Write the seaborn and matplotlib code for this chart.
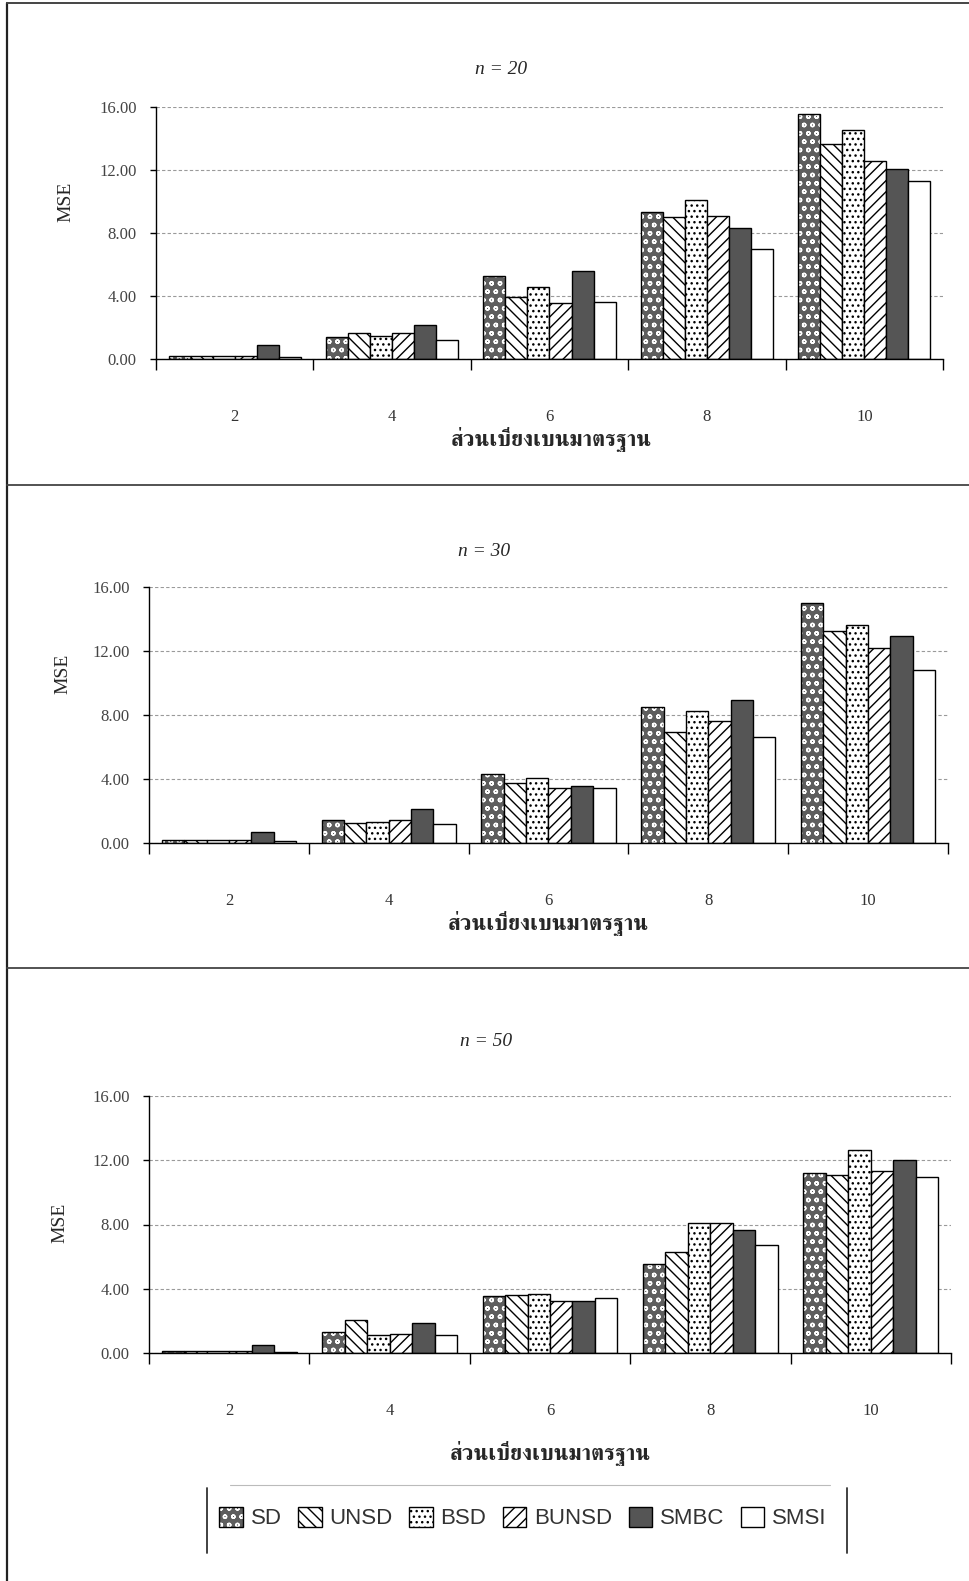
import numpy as np
import pandas as pd
import matplotlib
matplotlib.use("Agg")
import matplotlib.pyplot as plt
import seaborn as sns
from matplotlib import font_manager as fm
from matplotlib.ft2font import FT2Font
from matplotlib.lines import Line2D
from matplotlib.patches import Patch

# ---------------- data ----------------
sd_levels = ["2", "4", "6", "8", "10"]
methods = ["SD", "UNSD", "BSD", "BUNSD", "SMBC", "SMSI"]
panel_titles = ["n = 20", "n = 30", "n = 50"]

n20_SD    = [0.17, 1.42, 5.30, 9.32, 15.57]
n20_UNSD  = [0.17, 1.63, 3.96, 9.00, 13.62]
n20_BSD   = [0.17, 1.46, 4.60, 10.11, 14.56]
n20_BUNSD = [0.17, 1.63, 3.58, 9.09, 12.54]
n20_SMBC  = [0.91, 2.18, 5.59, 8.33, 12.06]
n20_SMSI  = [0.15, 1.23, 3.60, 6.97, 11.33]

n30_SD    = [0.17, 1.41, 4.33, 8.48, 15.03]
n30_UNSD  = [0.17, 1.24, 3.77, 6.92, 13.22]
n30_BSD   = [0.17, 1.31, 4.04, 8.25, 13.64]
n30_BUNSD = [0.17, 1.43, 3.44, 7.61, 12.17]
n30_SMBC  = [0.68, 2.11, 3.59, 8.95, 12.93]
n30_SMSI  = [0.12, 1.20, 3.42, 6.65, 10.82]

n50_SD    = [0.12, 1.32, 3.55, 5.55, 11.19]
n50_UNSD  = [0.12, 2.03, 3.61, 6.26, 11.11]
n50_BSD   = [0.12, 1.13, 3.67, 8.08, 12.65]
n50_BUNSD = [0.12, 1.21, 3.26, 8.08, 11.32]
n50_SMBC  = [0.50, 1.84, 3.26, 7.64, 12.03]
n50_SMSI  = [0.08, 1.13, 3.44, 6.74, 10.98]

ytick_vals = [0, 4, 8, 12, 16]
ytick_labels = ["0.00", "4.00", "8.00", "12.00", "16.00"]
xlabel_text = "ส่วนเบี่ยงเบนมาตรฐาน"
ylabel_text = "MSE"

panels = [
    [n20_SD, n20_UNSD, n20_BSD, n20_BUNSD, n20_SMBC, n20_SMSI],
    [n30_SD, n30_UNSD, n30_BSD, n30_BUNSD, n30_SMBC, n30_SMSI],
    [n50_SD, n50_UNSD, n50_BSD, n50_BUNSD, n50_SMBC, n50_SMSI],
]

# ---------------- fonts ----------------
def find_thai_font():
    found = []
    for f in fm.fontManager.ttflist:
        try:
            cm = FT2Font(f.fname).get_charmap()
        except Exception:
            continue
        if 0x0E2A in cm and 0x0E40 in cm and 0x0E10 in cm:
            found.append(f)
    if not found:
        return None
    def score(f):
        s = 0
        if f.weight in ("bold", 700) or str(f.weight) == "700":
            s += 2
        if "serif" in f.name.lower() and "sans" not in f.name.lower():
            s += 1
        return -s
    found.sort(key=score)
    return found[0].name

thai_family = find_thai_font()
installed = {f.name for f in fm.fontManager.ttflist}
legend_family = [n for n in ["Liberation Sans Narrow", "Liberation Sans", "DejaVu Sans"]
                 if n in installed] or ["DejaVu Sans"]

sns.set_theme(style="white")
SERIF = ["Liberation Serif", "DejaVu Serif"]
plt.rcParams["font.family"] = SERIF
plt.rcParams["hatch.linewidth"] = 1.0

# ---------------- styles ----------------
styles = {
    "SD":    dict(face="#5e5e5e", hatch="oo", hcolor="white"),
    "UNSD":  dict(face="white", hatch="\\\\\\", hcolor="black"),
    "BSD":   dict(face="white", hatch="...", hcolor="black"),
    "BUNSD": dict(face="white", hatch="///", hcolor="black"),
    "SMBC":  dict(face="#555555", hatch=None, hcolor="black"),
    "SMSI":  dict(face="white", hatch=None, hcolor="black"),
}

W, H = 970, 1581
fig = plt.figure(figsize=(W / 100, H / 100), dpi=100)

def fx(px):
    return px / W

def fy(py):
    return 1 - py / H

rects = [(156, 943, 107, 359), (149, 948, 587, 843), (149, 951, 1096, 1353)]
title_pos = [(501, 69), (484, 551), (486, 1041)]
xlabel_pos = [(551, 440), (548, 924), (550, 1453)]
ylabel_pos = [(66, 202), (63, 674), (60, 1223)]

for k, (vals, rect) in enumerate(zip(panels, rects)):
    l, r, t, b = rect
    ax = fig.add_axes([fx(l), fy(b), fx(r - l), (b - t) / H])
    rows = []
    for m, series in zip(methods, vals):
        for c, v in zip(sd_levels, series):
            rows.append({"sd": c, "method": m, "mse": v})
    df = pd.DataFrame(rows)
    sns.barplot(data=df, x="sd", y="mse", hue="method", order=sd_levels,
                hue_order=methods, palette=["white"] * 6, width=0.84, gap=0,
                edgecolor="black", linewidth=1.0, legend=False, ax=ax,
                errorbar=None, saturation=1)
    for cont, m in zip(ax.containers, methods):
        st = styles[m]
        for p in cont.patches:
            p.set_facecolor(st["face"])
            p.set_edgecolor("black")
            if st["hatch"]:
                p.set_hatch(st["hatch"])
                p._hatch_color = matplotlib.colors.to_rgba(st["hcolor"])
    ax.set_xlim(-0.5, 4.5)
    ax.set_ylim(0, 16)
    ax.set_yticks(ytick_vals)
    ax.set_yticklabels(ytick_labels)
    ax.set_xticks(range(len(sd_levels)))
    ax.set_xticklabels(sd_levels)
    ax.set_xticks(np.arange(-0.5, 5, 1.0), minor=True)
    ax.tick_params(axis="x", which="major", length=0, pad=36, labelsize=12,
                   labelcolor="#333333")
    ax.tick_params(axis="x", which="minor", length=8, width=1, color="black",
                   direction="out", bottom=True)
    ax.tick_params(axis="y", which="major", length=4, width=1, color="black",
                   direction="out", left=True, pad=10, labelsize=12,
                   labelcolor="#444444")
    ax.set_xlabel("")
    ax.set_ylabel("")
    ax.yaxis.grid(True, linestyle=(0, (3, 2)), color="#9a9a9a", linewidth=0.8)
    ax.set_axisbelow(True)
    for s in ("top", "right"):
        ax.spines[s].set_visible(False)
    for s in ("left", "bottom"):
        ax.spines[s].set_color("black")
        ax.spines[s].set_linewidth(1.0)

    tx, ty = title_pos[k]
    fig.text(fx(tx), fy(ty), panel_titles[k], ha="center", va="center",
             fontsize=14, style="italic", family=SERIF)
    xx, xy = xlabel_pos[k]
    fig.text(fx(xx), fy(xy), xlabel_text, ha="center", va="center",
             fontsize=16, fontweight="bold",
             family=[thai_family] if thai_family else ["DejaVu Sans"])
    yx, yy = ylabel_pos[k]
    fig.text(fx(yx), fy(yy), ylabel_text, ha="center", va="center",
             fontsize=14, rotation=90, family=SERIF)

# ---------------- legend ----------------
handles = []
for m in methods:
    st = styles[m]
    hp = Patch(facecolor=st["face"], edgecolor="black", hatch=st["hatch"],
               linewidth=1.0, label=m)
    if st["hatch"]:
        hp._hatch_color = matplotlib.colors.to_rgba(st["hcolor"])
    handles.append(hp)
leg = fig.legend(handles=handles, loc="center", bbox_to_anchor=(fx(523), fy(1518)),
                 ncol=6, frameon=False, handlelength=1.05, handleheight=1.05,
                 handletextpad=0.35, columnspacing=0.75,
                 prop={"family": legend_family, "size": 16})
for txt in leg.get_texts():
    txt.set_color("#333333")

# ---------------- frame lines ----------------
def hline(y, x0, x1, **kw):
    fig.add_artist(Line2D([fx(x0), fx(x1)], [fy(y), fy(y)],
                          transform=fig.transFigure, **kw))

def vline(x, y0, y1, **kw):
    fig.add_artist(Line2D([fx(x), fx(x)], [fy(y0), fy(y1)],
                          transform=fig.transFigure, **kw))

vline(7, 3, H, color="#222222", lw=1.6)
hline(3, 7, W, color="#444444", lw=1.4)
hline(485, 7, W, color="#444444", lw=1.3)
hline(968, 7, W, color="#444444", lw=1.3)
vline(207, 1488, 1553, color="#333333", lw=1.3)
vline(847, 1488, 1553, color="#333333", lw=1.3)
hline(1485, 230, 830, color="#bbbbbb", lw=0.8)

fig.savefig("out.png", dpi=100)
